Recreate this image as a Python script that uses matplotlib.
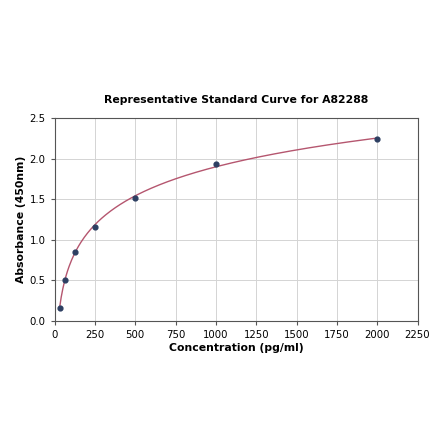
import numpy as np
import matplotlib
matplotlib.use("Agg")
import matplotlib.pyplot as plt

# standard points
conc = np.array([31.25, 62.5, 125, 250, 500, 1000, 2000])
absorb = np.array([0.152, 0.50, 0.85, 1.16, 1.52, 1.94, 2.24])

x_ticks = [0, 250, 500, 750, 1000, 1250, 1500, 1750, 2000, 2250]
y_ticks = [0.0, 0.5, 1.0, 1.5, 2.0, 2.5]


# 4PL fit: y = d + (a - d) / (1 + (x/c)^b), simple Gauss-Newton
def f4pl(x, p):
    a, b, c, d = p
    return d + (a - d) / (1 + (x / c) ** b)


p = np.array([0.0, 1.0, 500.0, 3.0])
for _ in range(200):
    r = absorb - f4pl(conc, p)
    J = np.zeros((len(conc), 4))
    for k in range(4):
        dp = np.zeros(4)
        dp[k] = 1e-6 * max(abs(p[k]), 1.0)
        J[:, k] = (f4pl(conc, p + dp) - f4pl(conc, p)) / dp[k]
    step, *_ = np.linalg.lstsq(J, r, rcond=None)
    p = p + 0.5 * step
    p[2] = max(p[2], 1.0)

xs = np.linspace(conc.min(), conc.max(), 400)
ys = f4pl(xs, p)

fig = plt.figure(figsize=(4.4, 4.41), dpi=100)
ax = fig.add_axes([0.124, 0.273, 0.825, 0.459])

ax.plot(xs, ys, color="#b5566f", linewidth=1.0, zorder=2)
ax.scatter(conc, absorb, s=12, color="#2d3f62", zorder=3)

ax.set_xlim(0, 2250)
ax.set_ylim(0, 2.5)
ax.set_xticks(x_ticks)
ax.set_yticks(y_ticks)
ax.tick_params(labelsize=7.3, length=3, color="#555555")
ax.grid(True, color="#d4d4d4", linewidth=0.7)
ax.set_axisbelow(True)
for s in ax.spines.values():
    s.set_color("#555555")

ax.set_title("Representative Standard Curve for A82288", fontsize=7.8,
             fontweight="bold", pad=11)
ax.set_xlabel("Concentration (pg/ml)", fontsize=7.8, fontweight="bold",
              labelpad=2.5)
ax.set_ylabel("Absorbance (450nm)", fontsize=7.8, fontweight="bold",
              labelpad=2.5)

fig.savefig("out.png", dpi=100)
